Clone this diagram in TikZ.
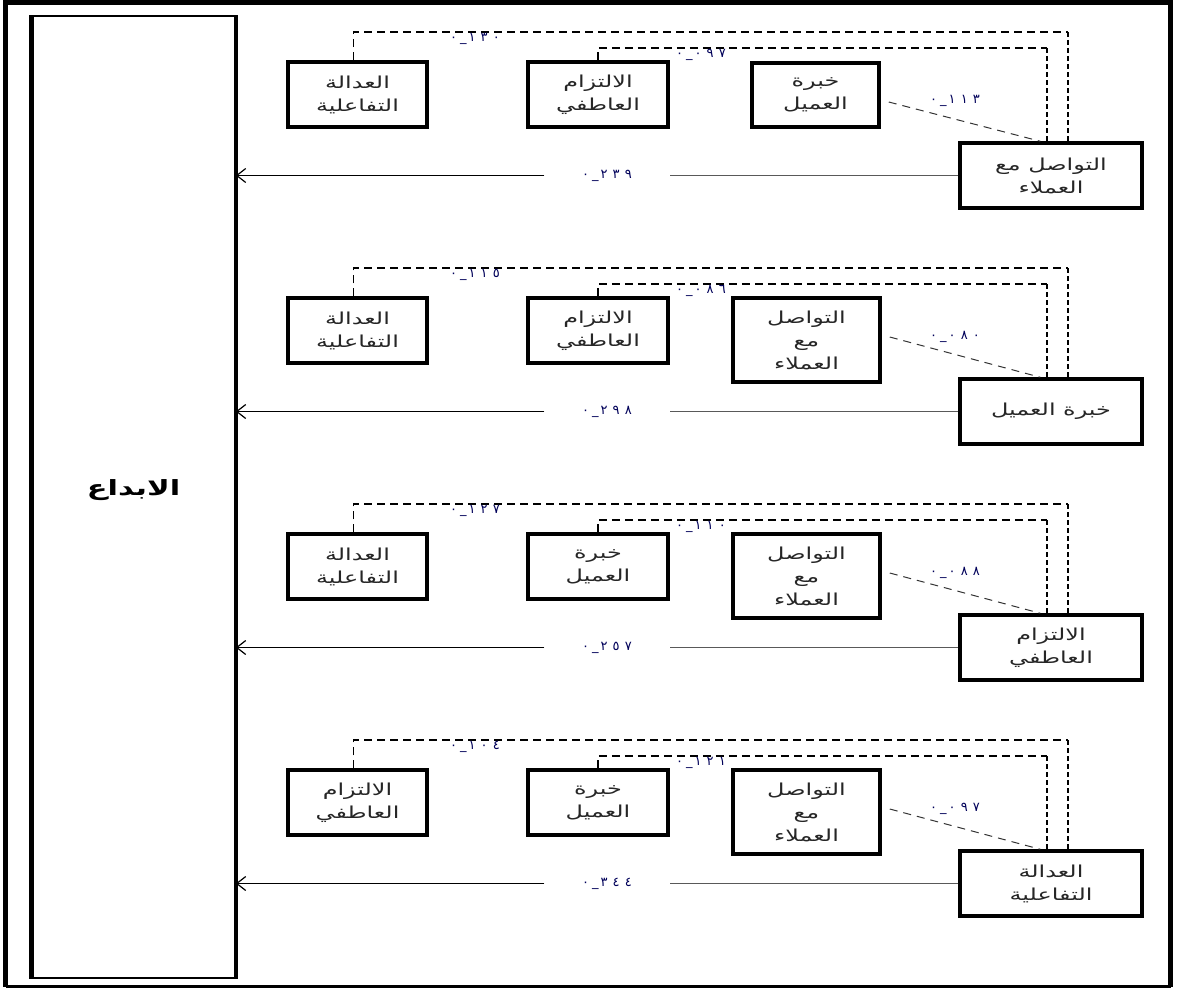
\documentclass[tikz,border=0pt]{standalone}
\usepackage{fontspec}
\newfontfamily\arabicfont[Script=Arabic,FakeStretch=1.45]{DejaVu Sans}
\newfontfamily\numfont[LetterSpace=40]{DejaVu Sans}
\TeXXeTstate=1
\usetikzlibrary{arrows.meta}
\newcommand\AR[1]{\beginR #1\endR}
\newcommand\nm[1]{\hbox{٠}\kern3pt\hbox{\_}\kern2pt\hbox{#1}}
\tikzset{
  box/.style={draw, line width=3.5pt, inner sep=0pt, align=center,
    font=\arabicfont\fontsize{16.5}{23}\selectfont, text=black!85},
  lab/.style={inner sep=0pt, font=\numfont\fontsize{13}{15}\selectfont, text=blue!35!black},
  alab/.style={lab, minimum width=125pt},
  dashh/.style={line width=1.3pt, dash pattern=on 8pt off 5pt},
  dashv/.style={line width=1.8pt, dash pattern=on 5pt off 3pt},
  diag/.style={line width=1pt, dash pattern=on 8pt off 6pt, black!80},
  arr/.style={line width=1.2pt, -{Straight Barb[length=9pt,width=14pt]}},
  gline/.style={line width=1.2pt, black!65}
}
% #1 offset, #2 left, #3 mid, #4 right, #5 target, #6 outer lab, #7 inner lab, #8 diag lab, #9 arrow lab
\newcommand\grp[9]{%
  \node[box, minimum width=139pt, minimum height=65pt] (lb#1) at (357.5,{94.5+#1}) {#2};
  \node[box, minimum width=140pt, minimum height=65pt] (mb#1) at (598,{94.5+#1}) {#3};
  \node[box, minimum width=\rbw pt, minimum height=\rbh pt] (rb#1) at (\rbx,{\rby+#1}) {#4};
  \node[box, minimum width=182pt, minimum height=65pt] (tg#1) at (1051,{175.5+#1}) {#5};
  \coordinate (c1#1) at (1068,{32+#1});
  \coordinate (c2#1) at (1047,{48+#1});
  \draw[dashh] ([xshift=-4pt]lb#1.north) |- (c1#1);
  \draw[dashv] (c1#1) -- (c1#1 |- tg#1.north);
  \draw[dashh] (mb#1.north) |- (c2#1);
  \draw[dashv] (c2#1) -- (c2#1 |- tg#1.north);
  \draw[diag] ([shift={(8,\dy)}]rb#1.east) -- ([xshift=82pt]tg#1.north west);
  \node[lab] (ol#1) at (475,{39+#1}) {\nm{#6}};
  \node[lab] (il#1) at (701,{55+#1}) {\nm{#7}};
  \node[lab] (dl#1) at (955,{101+#1}) {\nm{#8}};
  \node[alab] (al#1) at (607,{175.5+#1}) {\nm{#9}};
  \draw[gline] (tg#1.west) -- (al#1.east);
  \draw[arr] (al#1.west) -- (al#1.west -| big.east);
}
\begin{document}
\begin{tikzpicture}[x=1pt,y=-1pt]
\useasboundingbox (0,0) rectangle (1177,990);
% outer frame
\draw[line width=4.5pt] (5.5,986.5) -- (5.5,2.5) -- (1170.5,2.5) -- (1170.5,986.5);
\draw[line width=3pt] (5.5,986.5) -- (1170.5,986.5);
% big box
\node[draw, line width=1.5pt, minimum width=203pt, minimum height=962pt, inner sep=0pt] (big) at (133.5,497) {};
\draw[line width=4.5pt] (big.north west) -- (big.south west);
\draw[line width=4.5pt] (big.north east) -- (big.south east);
\node[font=\arabicfont\bfseries\fontsize{21}{24}\selectfont] (bigt) at (133.5,490) {\AR{الابداع}};
% group 1
\def\rbw{127}\def\rbh{64}\def\rbx{815.5}\def\rby{95}\def\dy{7}
\grp{0}{\AR{العدالة}\\\AR{التفاعلية}}{\AR{الالتزام}\\\AR{العاطفي}}{\AR{خبرة}\\\AR{العميل}}{\AR{التواصل مع}\\\AR{العملاء}}{١٣٠}{٠٩٧}{١١٣}{٢٣٩}
% groups 2-4
\def\rbw{147}\def\rbh{84}\def\rbx{806.5}\def\rby{104}\def\dy{-3}
\grp{236}{\AR{العدالة}\\\AR{التفاعلية}}{\AR{الالتزام}\\\AR{العاطفي}}{\AR{التواصل}\\\AR{مع}\\\AR{العملاء}}{\AR{خبرة العميل}}{١١٥}{٠٨٦}{٠٨٠}{٢٩٨}
\grp{472}{\AR{العدالة}\\\AR{التفاعلية}}{\AR{خبرة}\\\AR{العميل}}{\AR{التواصل}\\\AR{مع}\\\AR{العملاء}}{\AR{الالتزام}\\\AR{العاطفي}}{١٢٧}{١١٠}{٠٨٨}{٢٥٧}
\grp{708}{\AR{الالتزام}\\\AR{العاطفي}}{\AR{خبرة}\\\AR{العميل}}{\AR{التواصل}\\\AR{مع}\\\AR{العملاء}}{\AR{العدالة}\\\AR{التفاعلية}}{١٠٤}{١٢١}{٠٩٧}{٣٤٤}
\end{tikzpicture}
\end{document}
